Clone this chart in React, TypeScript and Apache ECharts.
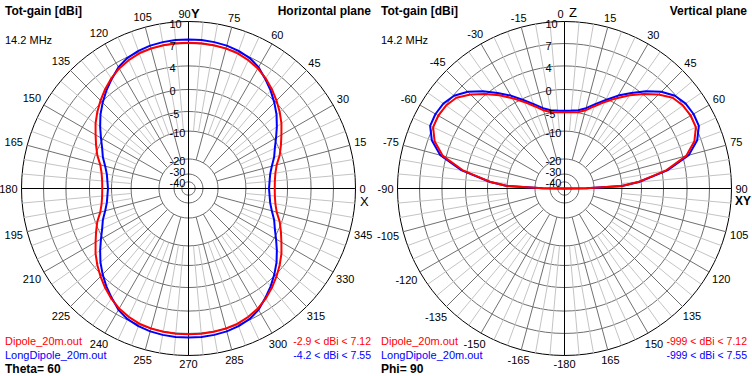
import React, { useEffect, useRef } from "react";
import * as echarts from "echarts";

// Radial scale of the plot (dB value of each ring and its fraction of the outer radius)
const RING_DB = [10, 7, 4, 0, -5, -10, -20, -30, -40];
const RING_FRAC = [1, 0.868, 0.734, 0.593, 0.461, 0.344, 0.177, 0.087, 0.04];
const RING_LABELS = ["10", "7", "4", "0", "-5", "-10", "-20", "-30", "-40"];

// Angle tick labels
const H_TICKS = [0, 15, 30, 45, 60, 75, 90, 105, 120, 135, 150, 165, 180, 195, 210, 225, 240, 255, 270, 285, 300, 315, 330, 345];
const V_TICKS = [-180, -165, -150, -135, -120, -105, -90, -75, -60, -45, -30, -15, 0, 15, 30, 45, 60, 75, 90, 105, 120, 135, 150, 165];

// Horizontal plane (Theta = 60), azimuth in degrees
const H_ANGLES = [
  0, 5, 10, 15, 20, 25, 30, 35, 40, 45, 50, 55, 60, 65, 70, 75, 80, 85, 90,
  95, 100, 105, 110, 115, 120, 125, 130, 135, 140, 145, 150, 155, 160, 165, 170, 175, 180,
  185, 190, 195, 200, 205, 210, 215, 220, 225, 230, 235, 240, 245, 250, 255, 260, 265, 270,
  275, 280, 285, 290, 295, 300, 305, 310, 315, 320, 325, 330, 335, 340, 345, 350, 355, 360,
];
const H_DIPOLE = [
  -2.9, -2.8, -2.45, -1.75, -0.45, 0.5, 1.4, 2.45, 3.4, 4.25, 4.95, 5.6, 6.15, 6.55, 6.85, 7.0, 7.07, 7.1, 7.12,
  7.1, 7.07, 7.0, 6.85, 6.55, 6.15, 5.6, 4.95, 4.25, 3.4, 2.45, 1.4, 0.5, -0.45, -1.75, -2.45, -2.8, -2.9,
  -2.8, -2.45, -1.75, -0.45, 0.5, 1.4, 2.45, 3.4, 4.25, 4.95, 5.6, 6.15, 6.55, 6.85, 7.0, 7.07, 7.1, 7.12,
  7.1, 7.07, 7.0, 6.85, 6.55, 6.15, 5.6, 4.95, 4.25, 3.4, 2.45, 1.4, 0.5, -0.45, -1.75, -2.45, -2.8, -2.9,
];
const H_LONG = [
  -4.2, -4.0, -3.65, -2.9, -1.8, -0.85, 0.35, 1.5, 2.7, 3.8, 4.7, 5.5, 6.35, 6.9, 7.2, 7.4, 7.5, 7.55, 7.55,
  7.55, 7.5, 7.4, 7.2, 6.9, 6.35, 5.5, 4.7, 3.8, 2.7, 1.5, 0.35, -0.85, -1.8, -2.9, -3.65, -4.0, -4.2,
  -4.0, -3.65, -2.9, -1.8, -0.85, 0.35, 1.5, 2.7, 3.8, 4.7, 5.5, 6.35, 6.9, 7.2, 7.4, 7.5, 7.55, 7.55,
  7.55, 7.5, 7.4, 7.2, 6.9, 6.35, 5.5, 4.7, 3.8, 2.7, 1.5, 0.35, -0.85, -1.8, -2.9, -3.65, -4.0, -4.2,
];

// Vertical plane (Phi = 90), angle from zenith in degrees
const V_ANGLES = [
  -90, -89.5, -87.5, -85, -80, -75, -70, -65, -60, -55, -50, -45, -40, -35, -30, -25, -20, -15, -10, -5,
  0, 5, 10, 15, 20, 25, 30, 35, 40, 45, 50, 55, 60, 65, 70, 75, 80, 85, 87.5, 89.5, 90,
];
const V_DIPOLE = [
  -999, -25, -10, -5.8, 0.6, 4.45, 6.1, 7.0, 7.12, 6.95, 6.5, 5.4, 4.1, 2.5, 0.9, -0.8, -2.6, -4.1, -4.9, -5.1,
  -5.2, -5.1, -4.9, -4.1, -2.6, -0.8, 0.9, 2.5, 4.1, 5.4, 6.5, 6.95, 7.12, 7.0, 6.1, 4.45, 0.6, -5.8, -10, -25, -999,
];
const V_LONG = [
  -999, -25, -10, -5.6, 0.9, 4.8, 6.5, 7.45, 7.55, 7.4, 6.9, 5.9, 4.6, 3.0, 1.4, -0.3, -2.1, -3.6, -4.45, -4.7,
  -4.8, -4.7, -4.45, -3.6, -2.1, -0.3, 1.4, 3.0, 4.6, 5.9, 6.9, 7.4, 7.55, 7.45, 6.5, 4.8, 0.9, -5.6, -10, -25, -999,
];

const FILES = ["Dipole_20m.out", "LongDipole_20m.out"];
const H_RANGES = ["-2.9 < dBi < 7.12", "-4.2 < dBi < 7.55"];
const V_RANGES = ["-999 < dBi < 7.12", "-999 < dBi < 7.55"];

const FONT = '"Liberation Sans", Arial, sans-serif';
const RED = "#ff0000";
const BLUE = "#0000ff";

function dbToR(db: number): number {
  if (db >= RING_DB[0]) return 1;
  for (let i = 0; i < RING_DB.length - 1; i++) {
    const a = RING_DB[i];
    const b = RING_DB[i + 1];
    if (db <= a && db >= b) {
      const t = (a - db) / (a - b);
      return RING_FRAC[i] + t * (RING_FRAC[i + 1] - RING_FRAC[i]);
    }
  }
  const last = RING_FRAC[RING_FRAC.length - 1];
  const t = Math.min(1, (RING_DB[RING_DB.length - 1] - db) / 10);
  return last * (1 - t);
}

const SPOKE_COLORS = ["#000000", "#707070", "#c4c4c4"];

function gridSeries(polarIndex: number, startA: number, topAngle: number, ticks: number[]): any[] {
  const spokes: number[][] = [];
  for (let a = startA; a < startA + 360; a += 5) {
    const kind = a % 90 === 0 ? 0 : a % 15 === 0 ? 1 : 2;
    const r0 = kind === 0 ? 0 : kind === 1 ? dbToR(-20) : dbToR(-10);
    spokes.push([r0, a, kind]);
  }
  const rings = RING_DB.slice(1).map((d) => [dbToR(d), topAngle]);
  const labels = RING_DB.map((d, i) => [dbToR(d), topAngle, i]);
  const ringLabelDy = (i: number) => (i === 7 ? -1.5 : i === 8 ? 1.5 : 2);
  return [
    {
      type: "custom",
      coordinateSystem: "polar",
      polarIndex,
      silent: true,
      z: 1,
      data: rings,
      renderItem: (_p: any, api: any) => {
        const c = api.coord([0, api.value(1)]);
        const p = api.coord([api.value(0), api.value(1)]);
        const rad = Math.hypot(p[0] - c[0], p[1] - c[1]);
        return {
          type: "circle",
          shape: { cx: c[0], cy: c[1], r: rad },
          style: { fill: "none", stroke: "#6e6e6e", lineWidth: 1 },
        };
      },
    },
    {
      type: "custom",
      coordinateSystem: "polar",
      polarIndex,
      silent: true,
      z: 1,
      data: spokes,
      renderItem: (_p: any, api: any) => {
        const p0 = api.coord([api.value(0), api.value(1)]);
        const p1 = api.coord([1, api.value(1)]);
        const kind = api.value(2);
        return {
          type: "line",
          z2: kind === 0 ? 3 : kind === 1 ? 2 : 1,
          shape: { x1: p0[0], y1: p0[1], x2: p1[0], y2: p1[1] },
          style: { stroke: SPOKE_COLORS[kind], lineWidth: 1 },
        };
      },
    },
    {
      type: "custom",
      coordinateSystem: "polar",
      polarIndex,
      silent: true,
      z: 5,
      data: labels,
      renderItem: (_p: any, api: any) => {
        const p = api.coord([api.value(0), api.value(1)]);
        const i = api.value(2);
        return {
          type: "text",
          x: p[0] - 19,
          y: p[1] + ringLabelDy(i),
          style: {
            text: RING_LABELS[i],
            fill: "#000",
            font: `11px ${FONT}`,
            lineHeight: 10,
            textAlign: "left",
            textVerticalAlign: "middle",
            verticalAlign: "middle",
          },
        };
      },
    },
    {
      type: "custom",
      coordinateSystem: "polar",
      polarIndex,
      silent: true,
      z: 5,
      data: ticks.map((a) => [1, a]),
      renderItem: (_p: any, api: any) => {
        const a = api.value(1);
        const c = api.coord([0, a]);
        const e = api.coord([1, a]);
        const R = Math.hypot(e[0] - c[0], e[1] - c[1]);
        const ux = (e[0] - c[0]) / R;
        const uy = (e[1] - c[1]) / R;
        const text = String(a);
        const digits = text.replace("-", "").length;
        const w = digits * 6.1 + (text.indexOf("-") >= 0 ? 3.7 : 0);
        const d = R + 4 + (Math.abs(ux) * w) / 2 + Math.abs(uy) * 4;
        let x = c[0] + ux * d;
        const y = c[1] + uy * d;
        if (a === topAngle) x -= 4;
        return {
          type: "text",
          x,
          y,
          style: {
            text,
            fill: "#000",
            font: `11px ${FONT}`,
            lineHeight: 10,
            textAlign: "center",
            textVerticalAlign: "middle",
            verticalAlign: "middle",
          },
        };
      },
    },
  ];
}

function curve(polarIndex: number, angles: number[], vals: number[], color: string, z: number): any {
  return {
    type: "line",
    coordinateSystem: "polar",
    polarIndex,
    silent: true,
    showSymbol: false,
    symbol: "none",
    z,
    lineStyle: { color, width: 2 },
    data: angles.map((a, i) => [dbToR(vals[i]), a]),
  };
}

function txt(x: number, y: number, text: string, font: string, fill: string, align: string): any {
  return {
    type: "text",
    x,
    y,
    silent: true,
    style: { text, font, fill, textAlign: align, textVerticalAlign: "top", verticalAlign: "top" },
  };
}

export default function App() {
  const ref = useRef<HTMLDivElement>(null);
  useEffect(() => {
    if (!ref.current) return;
    const chart = echarts.init(ref.current, null, { renderer: "svg" });
    const angleCommon = {
      type: "value",
      interval: 15,
      axisLine: { show: true, lineStyle: { color: "#000", width: 1 } },
      axisTick: { show: false },
      axisLabel: { show: false },
      splitLine: { show: false },
      minorSplitLine: { show: false },
    };
    const radiusCommon = {
      type: "value",
      min: 0,
      max: 1,
      axisLine: { show: false },
      axisTick: { show: false },
      axisLabel: { show: false },
      splitLine: { show: false },
    };
    const B = `bold 12px ${FONT}`;
    const N = `11px ${FONT}`;
    const S = `10.5px ${FONT}`;
    const option: any = {
      animation: false,
      backgroundColor: "#fff",
      polar: [
        { center: [188.5, 188.5], radius: 167 },
        { center: [564.5, 188.5], radius: 167 },
      ],
      angleAxis: [
        { ...angleCommon, polarIndex: 0, min: 0, max: 360, startAngle: 0, clockwise: false },
        { ...angleCommon, polarIndex: 1, min: -180, max: 180, startAngle: 270, clockwise: true },
      ],
      radiusAxis: [
        { ...radiusCommon, polarIndex: 0 },
        { ...radiusCommon, polarIndex: 1 },
      ],
      series: [
        ...gridSeries(0, 0, 90, H_TICKS),
        ...gridSeries(1, -180, 0, V_TICKS),
        curve(0, H_ANGLES, H_LONG, BLUE, 3),
        curve(0, H_ANGLES, H_DIPOLE, RED, 4),
        curve(1, V_ANGLES, V_LONG, BLUE, 3),
        curve(1, V_ANGLES, V_DIPOLE, RED, 4),
      ],
      graphic: {
        elements: [
          txt(5, 5, "Tot-gain [dBi]", B, "#000", "left"),
          txt(371, 5, "Horizontal plane", B, "#000", "right"),
          txt(5, 34, "14.2 MHz", N, "#000", "left"),
          txt(5, 335, FILES[0], N, RED, "left"),
          txt(5, 349.5, FILES[1], N, BLUE, "left"),
          txt(5, 363, "Theta= 60", B, "#000", "left"),
          txt(371, 335, H_RANGES[0], S, RED, "right"),
          txt(371, 349.5, H_RANGES[1], S, BLUE, "right"),
          txt(191, 7, "Y", `bold 13px ${FONT}`, "#000", "left"),
          txt(360, 195, "X", `13px ${FONT}`, "#000", "left"),

          txt(381, 5, "Tot-gain [dBi]", B, "#000", "left"),
          txt(747, 5, "Vertical plane", B, "#000", "right"),
          txt(381, 34, "14.2 MHz", N, "#000", "left"),
          txt(381, 335, FILES[0], N, RED, "left"),
          txt(381, 349.5, FILES[1], N, BLUE, "left"),
          txt(381, 363, "Phi= 90", B, "#000", "left"),
          txt(747, 335, V_RANGES[0], S, RED, "right"),
          txt(747, 349.5, V_RANGES[1], S, BLUE, "right"),
          txt(569, 6, "Z", `13px ${FONT}`, "#000", "left"),
          txt(735, 195, "XY", `bold 12px ${FONT}`, "#000", "left"),
        ],
      },
    };
    chart.setOption(option);
    return () => chart.dispose();
  }, []);
  return (
    <div
      ref={ref}
      style={{ position: "fixed", left: 0, top: 0, width: 752, height: 376, background: "#fff" }}
    />
  );
}
